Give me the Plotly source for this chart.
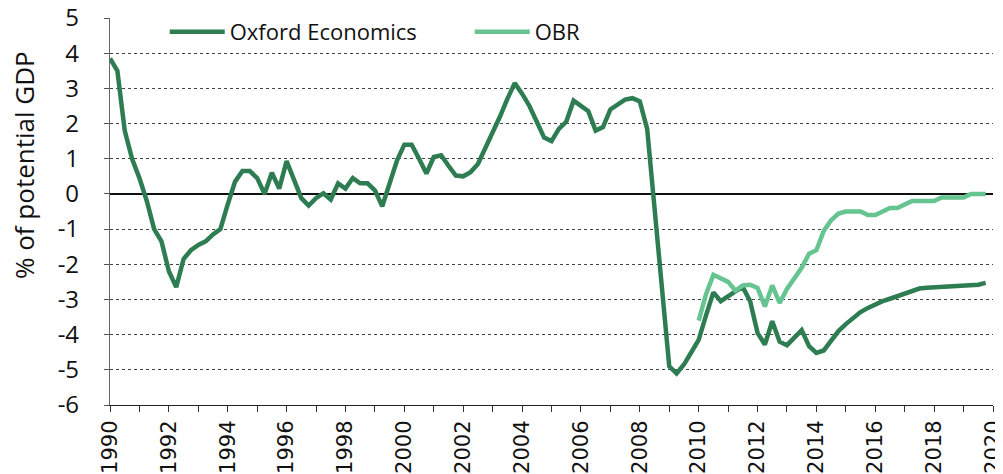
import numpy as np
import plotly.graph_objects as go

# Quarterly output gap, % of potential GDP
oxford_start = 1990.0
oxford = [
    3.85, 3.5, 1.8, 1.0,        # 1990
    0.45, -0.2, -1.0, -1.35,    # 1991
    -2.2, -2.65, -1.85, -1.6,   # 1992
    -1.45, -1.35, -1.15, -1.0,  # 1993
    -0.3, 0.35, 0.65, 0.65,     # 1994
    0.45, 0.0, 0.6, 0.15,       # 1995
    0.93, 0.4, -0.12, -0.33,    # 1996
    -0.12, 0.02, -0.16, 0.3,    # 1997
    0.15, 0.45, 0.3, 0.3,       # 1998
    0.1, -0.35, 0.35, 0.95,     # 1999
    1.4, 1.4, 1.0, 0.58,        # 2000
    1.05, 1.1, 0.8, 0.52,       # 2001
    0.5, 0.62, 0.85, 1.3,       # 2002
    1.7, 2.2, 2.7, 3.15,        # 2003
    2.85, 2.5, 2.05, 1.6,       # 2004
    1.5, 1.85, 2.05, 2.65,      # 2005
    2.5, 2.35, 1.8, 1.9,        # 2006
    2.4, 2.55, 2.68, 2.72,      # 2007
    2.63, 1.85, -0.4, -2.65,    # 2008
    -4.9, -5.1, -4.85, -4.5,    # 2009
    -4.15, -3.45, -2.8, -3.05,  # 2010
    -2.9, -2.77, -2.65, -3.05,  # 2011
    -3.95, -4.28, -3.62, -4.2,  # 2012
    -4.3, -4.07, -3.87, -4.33,  # 2013
    -4.52, -4.45, -4.15, -3.9,  # 2014
    -3.7, -3.52, -3.36, -3.24,  # 2015
    -3.13, -3.05, -2.98, -2.9,  # 2016
    -2.82, -2.75, -2.69, -2.67, # 2017
    -2.66, -2.66, -2.65, -2.63, # 2018
    -2.61, -2.59, -2.58, -2.53, # 2019
]

obr_start = 2010.0
obr = [
    -3.6, -2.85, -2.3, -2.4,    # 2010
    -2.5, -2.75, -2.6, -2.58,   # 2011
    -2.67, -3.2, -2.6, -3.1,    # 2012
    -2.7, -2.4, -2.1, -1.7,     # 2013
    -1.6, -1.05, -0.75, -0.56,  # 2014
    -0.5, -0.5, -0.5, -0.6,     # 2015
    -0.6, -0.5, -0.4, -0.4,     # 2016
    -0.3, -0.2, -0.2, -0.2,     # 2017
    -0.2, -0.1, -0.1, -0.1,     # 2018
    -0.1, 0.0, 0.0, 0.0,        # 2019
]

x_tick_years = list(range(1990, 2021, 2))
y_ticks = list(range(-6, 6))

x_ox = [oxford_start + i / 4 for i in range(len(oxford))]
x_obr = [obr_start + i / 4 for i in range(len(obr))]

DARK = "#2E7D52"
LIGHT = "#66C490"

fig = go.Figure()
fig.add_trace(go.Scatter(x=x_ox, y=oxford, mode="lines", name="Oxford Economics",
                         line=dict(color=DARK, width=4.5)))
fig.add_trace(go.Scatter(x=x_obr, y=obr, mode="lines", name="OBR",
                         line=dict(color=LIGHT, width=4.5)))

fig.update_layout(
    width=995, height=466,
    margin=dict(l=102, r=10, t=10, b=69, autoexpand=False),
    paper_bgcolor="white", plot_bgcolor="white",
    font=dict(family="Open Sans", size=19, color="#111"),
    showlegend=True,
    legend=dict(orientation="h", x=0.062, y=0.964, xanchor="left", yanchor="middle",
                font=dict(family="Open Sans", size=22, color="#111"),
                bgcolor="rgba(0,0,0,0)", entrywidth=235, itemwidth=55,
                tracegroupgap=0),
    annotations=[dict(text="% of potential GDP", textangle=-90,
                      xref="paper", yref="paper", x=0, y=0.620,
                      xanchor="center", yanchor="middle", xshift=-86, showarrow=False,
                      font=dict(family="Open Sans", size=26, color="#111"))],
)

fig.update_xaxes(
    range=[1990, 2020], automargin=False,
    tickmode="array", tickvals=x_tick_years, ticktext=[str(y) for y in x_tick_years],
    tickangle=-90, ticklabeloverflow="allow",
    tickfont=dict(family="DejaVu Sans", size=21, color="#111"),
    ticks="outside", ticklen=6, tickcolor="#333",
    minor=dict(dtick=1, tick0=1990, ticks="outside", ticklen=6, tickcolor="#333", showgrid=False),
    showline=True, linecolor="#222", linewidth=1.2,
    showgrid=False, zeroline=False,
)
fig.update_yaxes(
    range=[-6, 5], automargin=False,
    tickmode="array", tickvals=y_ticks, ticktext=[str(v) for v in y_ticks],
    tickfont=dict(family="Open Sans", size=24, color="#111"),
    ticks="outside", ticklen=5, tickcolor="#555", ticklabelstandoff=20,
    ticklabeloverflow="allow",
    showline=True, linecolor="#666", linewidth=1.2,
    showgrid=True, gridcolor="#444", griddash="dot", gridwidth=1,
    zeroline=True, zerolinecolor="#111", zerolinewidth=1.5,
)

fig.write_html("out.html")
